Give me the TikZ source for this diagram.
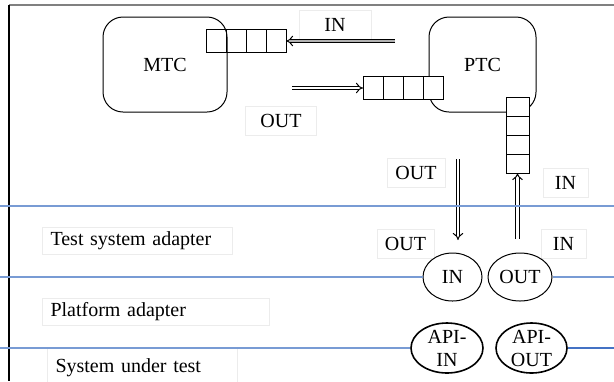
\documentclass[tikz,border=0pt]{standalone}
\usepackage{fontspec}
\setmainfont{Liberation Serif}
\usetikzlibrary{arrows, positioning, shapes.geometric}

\definecolor{layerblue}{RGB}{120,155,212}
\definecolor{layerdark}{RGB}{68,114,196}
\definecolor{tagframe}{RGB}{236,236,236}

\begin{document}
\begin{tikzpicture}[
            x = 0.5pt, y = -0.5pt, % one unit = one pixel of the sketch
            > = implies, % hollow arrow head for double lines
            font = \fontsize{10}{11.5}\selectfont,
            line width = 0.5pt % line style
        ]

        \tikzstyle{component}=[
            draw = black,
            rounded corners = 10pt,
            minimum width = 62pt,
            minimum height = 47.5pt
        ]
        \tikzstyle{cell}=[draw = black, inner sep = 0pt, outer sep = 0pt,
            minimum width = 10pt, minimum height = 11.5pt]
        \tikzstyle{vcell}=[cell, fill = white, minimum width = 11.5pt, minimum height = 9.5pt]
        \tikzstyle{tag}=[draw = tagframe, fill = white, inner sep = 2pt, minimum height = 14.5pt]
        \tikzstyle{layertag}=[tag, anchor = west, inner xsep = 4pt, align = left, minimum height = 12pt]
        \tikzstyle{port}=[ellipse, draw = black, fill = white, inner sep = 0pt]
        \tikzstyle{layer}=[draw = layerblue, line width = 0.75pt]
        \tikzstyle{msg}=[->, double, double distance = 1.3pt, line width = 0.5pt]

        \useasboundingbox (0,0) rectangle (614,381);

        % frame
        \draw[gray, line width = 1pt] (9,5) -- (614,5);
        \draw[black, line width = 0.75pt] (9,5) -- (9,381);

        % components
        \node[component] (mtc) at (165,64.5) {MTC};
        \node[component, minimum width = 53.5pt] (ptc) at (482.5,64.5) {PTC};

        % queues
        \node[cell] (mq1) at (216,40.5) {};
        \foreach \i/\j in {2/1, 3/2, 4/3}
            \node[cell, right = 0pt of mq\j] (mq\i) {};
        \node[cell, fill = white] (pq1) at (373,87.5) {};
        \foreach \i/\j in {2/1, 3/2, 4/3}
            \node[cell, fill = white, right = 0pt of pq\j] (pq\i) {};
        \node[vcell] (vq1) at (517.5,106.5) {};
        \foreach \i/\j in {2/1, 3/2, 4/3}
            \node[vcell, below = 0pt of vq\j] (vq\i) {};

        % tags
        \node[tag, minimum width = 36pt] (inTop) at (335,24.5) {IN};
        \node[tag, minimum width = 35.5pt] (outMid) at (281,121) {OUT};
        \node[tag, minimum width = 29pt] (outDown) at (416,172.5) {OUT};
        \node[tag, minimum width = 22.5pt] (inUp) at (565.5,182.5) {IN};
        \node[tag, minimum width = 28.5pt] (outTsa) at (405.5,243.5) {OUT};
        \node[tag, minimum width = 22.5pt] (inTsa) at (563.5,244) {IN};

        \node[layertag, text width = 87pt] (tsa) at (42,241) {Test system adapter};
        \node[layertag, text width = 105.5pt] (pa) at (42,312) {Platform adapter};
        \node[layertag, text width = 87pt, minimum height = 20pt] (sut) at (47,367.5) {System under test};

        % messages
        \coordinate (inFrom) at (395,41);
        \coordinate (outFrom) at (292,88);
        \coordinate (downFrom) at (458,159);
        \coordinate (downTo) at (458,240);
        \coordinate (upFrom) at (517.5,239);
        \draw[msg, double = gray!60] (inFrom) -- (mq4.east |- inFrom);
        \draw[msg] (outFrom) -- (pq1.west |- outFrom);
        \draw[msg] (downFrom) -- (downTo);
        \draw[msg] (upFrom) -- (vq4.south);

        % ports
        \node[port, minimum width = 29.5pt, minimum height = 24pt] (tin) at (452.5,277) {IN};
        \node[port, minimum width = 32pt, minimum height = 24pt] (tout) at (520,277) {OUT};
        \node[port, line width = 0.8pt, minimum width = 36pt, minimum height = 25pt,
            label = {[align = center]center:API-\\IN}] (apiin) at (447,348) {};
        \node[port, line width = 0.8pt, minimum width = 35.5pt, minimum height = 25pt,
            label = {[align = center]center:API-\\OUT}] (apiout) at (531.5,348) {};

        % layers
        \draw[layer] (0,206) -- (614,206);
        \draw[layer] (0,277) -- (tin.west);
        \draw[layer] (tout.east) -- (614,277);
        \draw[layer] (0,348) -- (apiin.west);
        \draw[layer, draw = layerdark] (apiout.east) -- (614,348);

    \end{tikzpicture}
\end{document}
